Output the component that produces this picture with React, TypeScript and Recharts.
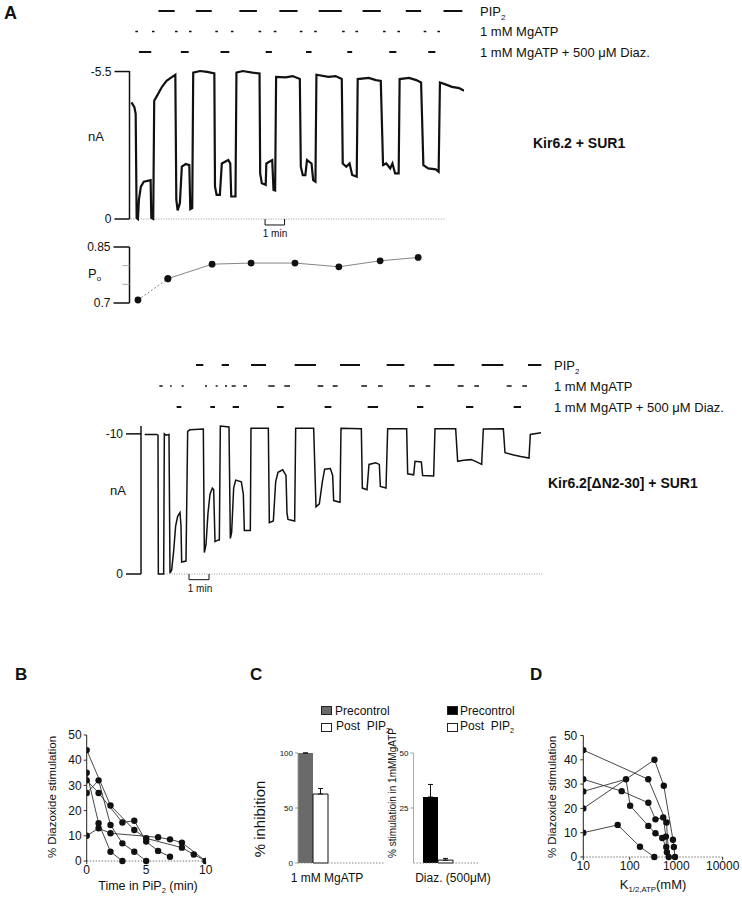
import React from "react";
import {
  Bar,
  BarChart,
  ErrorBar,
  Line,
  LineChart,
  ReferenceLine,
  XAxis,
  YAxis,
} from "recharts";

const FONT = '"Liberation Sans", Arial, Helvetica, sans-serif';
const INK = "#111";

// ---------- A, Kir6.2 + SUR1 (time in s, current in -nA) ----------
const A1_TIME = [
  0, 9, 13, 16, 20, 23, 29, 38, 59, 61, 67, 70, 79, 94, 108, 123, 135, 138, 142,
  149, 155, 167, 178, 181, 187, 190, 211, 233, 255, 257, 262, 272, 278, 298, 304,
  307, 320, 323, 342, 372, 394, 396, 401, 413, 415, 433, 437, 442, 445, 474, 496,
  518, 521, 527, 535, 540, 554, 559, 566, 569, 606, 628, 647, 650, 661, 671, 679,
  693, 696, 730, 752, 767, 774, 784, 796, 803, 811, 822, 825, 854, 876, 891, 898,
  913, 936, 945, 949, 964, 986, 1008, 1023,
];
const A1_CURRENT = [
  4.35, 4.17, 3.92, 0.04, 0, 0.72, 1.21, 1.39, 1.45, 0.04, 0, 4.41, 4.6, 4.93,
  5.15, 5.28, 5.38, 0.72, 0.32, 0.59, 1.95, 2.05, 2.01, 0.37, 0.41, 5.46, 5.52,
  5.49, 5.43, 1.21, 0.9, 0.9, 2.07, 2.2, 2.07, 0.84, 0.84, 5.46, 5.52, 5.46, 5.43,
  1.7, 1.33, 1.27, 2.07, 2.2, 1.08, 1.06, 5.3, 5.28, 5.33, 5.22, 1.95, 1.64, 1.64,
  2.2, 2.07, 1.45, 1.39, 5.38, 5.3, 5.33, 5.22, 2.07, 1.95, 2.07, 1.64, 1.58,
  5.22, 5.26, 5.18, 5.15, 2.01, 2.07, 1.89, 2.07, 1.7, 1.7, 5.22, 5.26, 5.18,
  5.09, 2.01, 1.89, 1.85, 1.76, 5.09, 5.03, 4.93, 4.88, 4.78,
];
const A1_PIP2: [number, number][] = [
  [83, 133], [198, 247], [332, 386], [455, 511], [576, 647], [711, 767], [844, 891], [960, 1018],
];
const A1_MGATP: [number, number][] = [
  [12, 20], [63, 71], [134, 142], [177, 185], [258, 266], [306, 314], [391, 399], [438, 446],
  [518, 526], [562, 570], [648, 656], [689, 697], [774, 782], [818, 826], [899, 907], [941, 949],
];
const A1_DIAZ: [number, number][] = [
  [23, 61], [152, 176], [274, 301], [413, 432], [537, 554], [664, 679], [793, 815], [913, 935],
];

const PO_TIME = [20, 112, 248, 368, 503, 638, 765, 882];
const PO_VALUE = [0.708, 0.765, 0.804, 0.807, 0.807, 0.797, 0.813, 0.822];

// ---------- A, Kir6.2[ΔN2-30] + SUR1 ----------
const A2_TIME = [
  0, 36, 40, 41, 57, 59, 64, 73, 76, 81, 87, 93, 99, 106, 109, 111, 124, 129, 136,
  176, 179, 184, 190, 196, 203, 207, 211, 221, 224, 227, 253, 257, 261, 267, 273,
  290, 296, 299, 317, 319, 371, 374, 386, 393, 400, 414, 424, 427, 430, 450, 453,
  507, 514, 524, 533, 540, 557, 564, 567, 586, 589, 650, 653, 667, 673, 693, 704,
  707, 724, 729, 786, 789, 807, 811, 830, 834, 867, 871, 933, 939, 957, 979, 993,
  1011, 1016, 1076, 1081, 1107, 1128, 1153, 1157, 1189,
];
const A2_CURRENT = [
  9.96, 9.96, 9.91, 0, 0, 10.0, 9.91, 9.96, 0.07, 0.29, 1.64, 3.44, 4.11, 4.38,
  3.44, 0.85, 0.92, 10.18, 10.29, 10.34, 1.53, 2.09, 4.34, 5.69, 6.13, 6.02, 2.31,
  2.43, 2.43, 10.56, 10.49, 2.54, 2.99, 6.13, 6.7, 6.58, 5.69, 3.1, 3.1, 10.4,
  10.4, 3.66, 3.78, 6.58, 7.26, 7.44, 7.03, 4.34, 3.89, 3.78, 10.4, 10.4, 4.79,
  5.01, 6.58, 7.48, 7.53, 7.03, 5.24, 5.12, 10.4, 10.36, 6.13, 6.02, 7.82, 7.93,
  7.82, 6.25, 6.13, 10.36, 10.36, 7.15, 7.08, 8.04, 8.0, 7.03, 6.99, 10.36, 10.36,
  8.04, 8.11, 8.16, 8.04, 7.82, 10.34, 10.36, 8.65, 8.49, 8.38, 8.27, 9.96, 10.07,
];
const A2_PIP2: [number, number][] = [
  [154, 176], [231, 253], [319, 364], [450, 514], [586, 646], [726, 779], [867, 929],
  [1011, 1076], [1150, 1190],
];
const A2_MGATP: [number, number][] = [
  [44, 54], [76, 81], [111, 117], [181, 187], [213, 219], [241, 247], [261, 273],
  [296, 307], [371, 390], [419, 436], [519, 536], [564, 579], [650, 667], [700, 714],
  [793, 810], [843, 857], [939, 957], [989, 1003], [1086, 1101], [1133, 1147],
];
const A2_DIAZ: [number, number][] = [
  [96, 110], [197, 211], [264, 283], [397, 417], [540, 560], [669, 700], [817, 836],
  [964, 986], [1107, 1129],
];

const ROW_LABELS = ["1 mM MgATP + 500 μM Diaz.", "1 mM MgATP", "PIP2"];

// ---------- B: % diazoxide stimulation vs time in PIP2 (min) ----------
const B_CELL_1 = [[0, 44], [2, 22], [4, 12.3], [5, 9], [8, 5.3], [9, 2.6], [10, 0]];
const B_CELL_2 = [[0, 35], [1, 15], [2, 3.7], [3, 0]];
const B_CELL_3 = [[0, 32], [1, 27], [3, 15.3], [4, 16], [5, 7.7], [6, 4], [7, 1.7]];
const B_CELL_4 = [[0, 27], [1, 32], [2, 14.3], [3, 7], [4, 3.7], [5, 0]];
const B_CELL_5 = [[0, 10], [1, 13], [2, 11], [6, 9.4], [7, 8.6], [8, 7.3], [10, 0]];

// ---------- C ----------
const C_GROUPS = ["1 mM MgATP", "Diaz. (500μM)"];
const C_PRE = [100, 30];
const C_POST = [62.7, 1.3];
const C_PRE_SEM = [0, 5.7];
const C_POST_SEM = [5, 0.8];

// ---------- D: % diazoxide stimulation vs K1/2,ATP (mM) ----------
const D_CELL_1 = [[10, 44], [250, 32], [617, 14.2], [690, 0]];
const D_CELL_2 = [[10, 20], [340, 40], [540, 29.3], [850, 7.1], [890, 4.1], [940, 0]];
const D_CELL_3 = [[10, 32], [67, 27.1], [251, 22.3], [357, 15.5], [525, 16.3], [600, 8.4], [630, 2]];
const D_CELL_4 = [[10, 27], [83, 32], [102, 21.1], [251, 12.8], [357, 9.8], [500, 7.8], [610, 4.1]];
const D_CELL_5 = [[10, 10], [55, 13.2], [166, 4.2], [338, 0]];

const Sub = ({ children }: { children: React.ReactNode }) => (
  <span style={{ fontSize: "0.6em", verticalAlign: "-0.35em" }}>{children}</span>
);

const Txt = ({
  x,
  y,
  size = 13,
  bold = false,
  anchor = "start",
  children,
}: {
  x: number;
  y: number;
  size?: number;
  bold?: boolean;
  anchor?: "start" | "middle" | "end";
  children: React.ReactNode;
}) => {
  const tx = anchor === "middle" ? "-50%" : anchor === "end" ? "-100%" : "0";
  return (
    <div
      style={{
        position: "absolute",
        left: x,
        top: y,
        transform: `translate(${tx}, -50%)`,
        fontSize: size,
        fontWeight: bold ? 700 : 400,
        whiteSpace: "nowrap",
        lineHeight: 1,
      }}
    >
      {children}
    </div>
  );
};

const RotTxt = ({ x, y, size, children }: { x: number; y: number; size: number; children: React.ReactNode }) => (
  <div
    style={{
      position: "absolute",
      left: x,
      top: y,
      transform: "translate(-50%, -50%) rotate(-90deg)",
      fontSize: size,
      whiteSpace: "nowrap",
      lineHeight: 1,
    }}
  >
    {children}
  </div>
);

const RowTick = (props: any) => {
  const { x, y, payload, gap } = props;
  const label = ROW_LABELS[payload.value];
  return (
    <text x={x + gap} y={y} dy="0.35em" fontSize={13} fill={INK} fontFamily={FONT}>
      {label === "PIP2" ? (
        <>
          <tspan>PIP</tspan>
          <tspan fontSize={8} dy={4}>2</tspan>
        </>
      ) : (
        label
      )}
    </text>
  );
};

type Seg = [number, number];

// one row of the application protocol: bars broken by nulls
const rowData = (rows: Seg[], level: number) =>
  rows.flatMap(([s, e]) => [
    { t: s, v: level },
    { t: e, v: level },
    { t: e, v: null },
  ]);

function Protocol({
  top,
  rowTop,
  rowBottom,
  plotLeft,
  plotRight,
  xDomain,
  pip2,
  mgatp,
  diaz,
  gap,
}: {
  top: number;
  rowTop: number;
  rowBottom: number;
  plotLeft: number;
  plotRight: number;
  xDomain: [number, number];
  pip2: Seg[];
  mgatp: Seg[];
  diaz: Seg[];
  gap: number;
}) {
  const width = 742;
  const height = rowBottom - top + 10;
  const rows: [Seg[], number, number][] = [
    [pip2, 2, 2],
    [mgatp, 1, 1.6],
    [diaz, 0, 2],
  ];
  return (
    <div style={{ position: "absolute", left: 0, top }}>
      <LineChart
        width={width}
        height={height}
        margin={{ top: rowTop - top, bottom: height - (rowBottom - top), left: plotLeft, right: 0 }}
      >
        <XAxis type="number" dataKey="t" domain={xDomain} hide allowDataOverflow />
        <YAxis
          type="number"
          orientation="right"
          domain={[0, 2]}
          ticks={[0, 1, 2]}
          interval={0}
          width={width - plotRight}
          axisLine={false}
          tickLine={false}
          tickSize={0}
          tickMargin={0}
          tick={<RowTick gap={gap} />}
        />
        {rows.map(([segs, level, sw]) => (
          <Line
            key={level}
            data={rowData(segs, level)}
            dataKey="v"
            type="linear"
            stroke={INK}
            strokeWidth={sw}
            dot={false}
            activeDot={false}
            connectNulls={false}
            isAnimationActive={false}
          />
        ))}
      </LineChart>
    </div>
  );
}

function Trace({
  top,
  height,
  plotLeft,
  plotRight,
  yTop,
  yBottom,
  xDomain,
  yMax,
  time,
  current,
  baseline,
  scaleBar,
  strokeWidth,
}: {
  top: number;
  height: number;
  plotLeft: number;
  plotRight: number;
  yTop: number;
  yBottom: number;
  xDomain: [number, number];
  yMax: number;
  time: number[];
  current: number[];
  baseline: [number, number];
  scaleBar: [number, number];
  strokeWidth: number;
}) {
  const width = plotRight + 16;
  const data = time.map((t, i) => ({ t, i: current[i] }));
  const dip = (yMax * 6) / (yBottom - yTop);
  const bar = [
    [{ x: scaleBar[0], y: 0 }, { x: scaleBar[0], y: -dip }],
    [{ x: scaleBar[0], y: -dip }, { x: scaleBar[1], y: -dip }],
    [{ x: scaleBar[1], y: -dip }, { x: scaleBar[1], y: 0 }],
  ];
  return (
    <div style={{ position: "absolute", left: 0, top }}>
      <LineChart
        width={width}
        height={height}
        data={data}
        margin={{ top: yTop - top, bottom: top + height - yBottom, left: 0, right: width - plotRight }}
      >
        <XAxis type="number" dataKey="t" domain={xDomain} hide allowDataOverflow />
        <YAxis
          type="number"
          domain={[0, yMax]}
          ticks={[0, yMax]}
          interval={0}
          width={plotLeft}
          axisLine={{ stroke: INK, strokeWidth: 1.5 }}
          tickLine={{ stroke: INK, strokeWidth: 1.5 }}
          tickSize={15}
          tickMargin={3}
          tick={{ fontSize: 12, fill: INK, fontFamily: FONT }}
          tickFormatter={(v: number) => (v === 0 ? "0" : `-${v}`)}
        />
        <ReferenceLine
          segment={[{ x: baseline[0], y: 0 }, { x: baseline[1], y: 0 }]}
          stroke="#999"
          strokeDasharray="1 1.5"
          ifOverflow="visible"
        />
        {bar.map((s, i) => (
          <ReferenceLine key={i} segment={s} stroke={INK} strokeWidth={1} ifOverflow="visible" />
        ))}
        <Line
          dataKey="i"
          type="linear"
          stroke={INK}
          strokeWidth={strokeWidth}
          dot={false}
          activeDot={false}
          isAnimationActive={false}
        />
      </LineChart>
    </div>
  );
}

const PoTick = (props: any) => {
  const { x, y, payload } = props;
  const major = payload.value === 0.7 || payload.value === 0.85;
  return (
    <g>
      <line
        x1={x - (major ? 16 : 7)}
        x2={x}
        y1={y}
        y2={y}
        stroke={major ? INK : "#aaa"}
        strokeWidth={major ? 1.5 : 1}
      />
      {major && (
        <text x={x - 19} y={y} dy="0.35em" textAnchor="end" fontSize={12} fill={INK} fontFamily={FONT}>
          {payload.value}
        </text>
      )}
    </g>
  );
};

function PoChart() {
  const top = 237;
  const height = 76;
  const data = PO_TIME.map((t, i) => ({ t, po: PO_VALUE[i] }));
  return (
    <div style={{ position: "absolute", left: 0, top }}>
      <LineChart width={480} height={height} margin={{ top: 247 - top, bottom: top + height - 303, left: 0, right: 16 }}>
        <XAxis type="number" dataKey="t" domain={[-6, 1023]} hide allowDataOverflow />
        <YAxis
          type="number"
          domain={[0.7, 0.85]}
          ticks={[0.7, 0.75, 0.8, 0.85]}
          interval={0}
          width={129.5}
          axisLine={{ stroke: INK, strokeWidth: 1.5 }}
          tickLine={false}
          tickSize={0}
          tickMargin={0}
          tick={<PoTick />}
        />
        <Line
          data={data.slice(0, 2)}
          dataKey="po"
          stroke="#666"
          strokeWidth={0.8}
          strokeDasharray="2 2"
          dot={{ r: 3.4, fill: INK, stroke: INK, strokeWidth: 0 }}
          activeDot={false}
          isAnimationActive={false}
        />
        <Line
          data={data.slice(1)}
          dataKey="po"
          stroke="#666"
          strokeWidth={0.8}
          dot={{ r: 3.4, fill: INK, stroke: INK, strokeWidth: 0 }}
          activeDot={false}
          isAnimationActive={false}
        />
      </LineChart>
    </div>
  );
}

const cellLine = (pts: number[][], key: string) => (
  <Line
    key={key}
    data={pts.map(([x, y]) => ({ x, y }))}
    dataKey="y"
    type="linear"
    stroke="#333"
    strokeWidth={0.9}
    dot={{ r: 3.2, fill: INK, stroke: INK, strokeWidth: 0 }}
    activeDot={false}
    isAnimationActive={false}
  />
);

function PanelB() {
  return (
    <div style={{ position: "absolute", left: 0, top: 720 }}>
      <LineChart width={230} height={175} margin={{ top: 15, right: 24.3, bottom: 9, left: 0 }}>
        <XAxis
          type="number"
          dataKey="x"
          domain={[0, 10]}
          ticks={[0, 5, 10]}
          interval={0}
          height={25}
          axisLine={{ stroke: "#777", strokeDasharray: "1.5 1.5" }}
          tickLine={{ stroke: "#333" }}
          tickSize={3}
          tickMargin={1}
          tick={{ fontSize: 12, fill: INK, fontFamily: FONT }}
          allowDataOverflow
        />
        <YAxis
          type="number"
          domain={[0, 50]}
          ticks={[0, 10, 20, 30, 40, 50]}
          interval={0}
          width={86.7}
          axisLine={{ stroke: "#222" }}
          tickLine={{ stroke: "#333" }}
          tickSize={3}
          tickMargin={2}
          tick={{ fontSize: 12, fill: INK, fontFamily: FONT }}
        />
        {[B_CELL_1, B_CELL_2, B_CELL_3, B_CELL_4, B_CELL_5].map((c, i) => cellLine(c, "b" + i))}
      </LineChart>
    </div>
  );
}

function PanelD() {
  return (
    <div style={{ position: "absolute", left: 490, top: 720 }}>
      <LineChart width={250} height={175} margin={{ top: 15.5, right: 17.3, bottom: 13, left: 0 }}>
        <XAxis
          type="number"
          dataKey="x"
          scale="log"
          domain={[10, 10000]}
          ticks={[10, 100, 1000, 10000]}
          interval={0}
          height={25}
          axisLine={{ stroke: "#777", strokeDasharray: "1.5 1.5" }}
          tickLine={{ stroke: "#333" }}
          tickSize={3}
          tickMargin={1}
          tick={{ fontSize: 12, fill: INK, fontFamily: FONT }}
          allowDataOverflow
        />
        <YAxis
          type="number"
          domain={[0, 50]}
          ticks={[0, 10, 20, 30, 40, 50]}
          interval={0}
          width={93.3}
          axisLine={{ stroke: "#222" }}
          tickLine={{ stroke: "#333" }}
          tickSize={3}
          tickMargin={3}
          tick={{ fontSize: 12, fill: INK, fontFamily: FONT }}
        />
        {[D_CELL_1, D_CELL_2, D_CELL_3, D_CELL_4, D_CELL_5].map((c, i) => cellLine(c, "d" + i))}
      </LineChart>
    </div>
  );
}

function BarPanel({
  idx,
  left,
  width,
  yWidth,
  rightGap,
  yMax,
  ticks,
  padLeft,
  padRight,
  preFill,
}: {
  idx: number;
  left: number;
  width: number;
  yWidth: number;
  rightGap: number;
  yMax: number;
  ticks: number[];
  padLeft: number;
  padRight: number;
  preFill: string;
}) {
  const data = [
    {
      name: C_GROUPS[idx],
      pre: C_PRE[idx],
      post: C_POST[idx],
      preErr: [0, C_PRE_SEM[idx]],
      postErr: [0, C_POST_SEM[idx]],
    },
  ];
  return (
    <div style={{ position: "absolute", left, top: 740 }}>
      <BarChart
        width={width}
        height={140}
        data={data}
        barCategoryGap={0}
        barGap={0}
        margin={{ top: 13, right: rightGap, bottom: 15, left: 0 }}
      >
        <XAxis
          dataKey="name"
          type="category"
          padding={{ left: padLeft, right: padRight }}
          height={2}
          tick={false}
          tickLine={false}
          axisLine={{ stroke: "#888", strokeDasharray: "1.5 1.5" }}
        />
        <YAxis
          type="number"
          domain={[0, yMax]}
          ticks={ticks}
          interval={0}
          width={yWidth}
          axisLine={{ stroke: "#999", strokeWidth: 0.8 }}
          tickLine={{ stroke: "#999" }}
          tickSize={3}
          tickMargin={2}
          tick={{ fontSize: 8, fill: INK, fontFamily: FONT }}
        />
        <Bar dataKey="pre" fill={preFill} isAnimationActive={false}>
          <ErrorBar dataKey="preErr" width={2.5} stroke={INK} strokeWidth={1} isAnimationActive={false} />
        </Bar>
        <Bar dataKey="post" fill="#fff" stroke={INK} strokeWidth={1} isAnimationActive={false}>
          <ErrorBar dataKey="postErr" width={2.5} stroke={INK} strokeWidth={1} isAnimationActive={false} />
        </Bar>
      </BarChart>
    </div>
  );
}

const Swatch = ({ x, y, fill }: { x: number; y: number; fill: string }) => (
  <div
    style={{
      position: "absolute",
      left: x,
      top: y,
      width: 9,
      height: 7,
      background: fill,
      border: "1px solid #222",
    }}
  />
);

export default function App() {
  return (
    <div
      style={{
        position: "absolute",
        left: 0,
        top: 0,
        width: 742,
        height: 899,
        background: "#fff",
        fontFamily: FONT,
        color: INK,
        overflow: "hidden",
      }}
    >
      {/* Panel A, upper recording */}
      <Protocol
        top={0}
        rowTop={11}
        rowBottom={52}
        plotLeft={129.5}
        plotRight={464}
        xDomain={[-6, 1023]}
        pip2={A1_PIP2}
        mgatp={A1_MGATP}
        diaz={A1_DIAZ}
        gap={16}
      />
      <Trace
        top={55}
        height={195}
        plotLeft={129.5}
        plotRight={464}
        yTop={71}
        yBottom={219}
        xDomain={[-6, 1023]}
        yMax={5.5}
        time={A1_TIME}
        current={A1_CURRENT}
        baseline={[-2, 966]}
        scaleBar={[411, 471]}
        strokeWidth={2.2}
      />
      <PoChart />

      {/* Panel A, lower recording */}
      <Protocol
        top={350}
        rowTop={365}
        rowBottom={407}
        plotLeft={141}
        plotRight={543}
        xDomain={[-11, 1195]}
        pip2={A2_PIP2}
        mgatp={A2_MGATP}
        diaz={A2_DIAZ}
        gap={11}
      />
      <Trace
        top={410}
        height={190}
        plotLeft={141}
        plotRight={543}
        yTop={426}
        yBottom={574}
        xDomain={[-11, 1195]}
        yMax={10}
        time={A2_TIME}
        current={A2_CURRENT}
        baseline={[43, 1193]}
        scaleBar={[133, 193]}
        strokeWidth={1.5}
      />

      <PanelB />
      <BarPanel idx={0} left={250} width={140} yWidth={48} rightGap={6} yMax={100} ticks={[0, 50, 100]} padLeft={0} padRight={57} preFill="#6a6a6a" />
      <BarPanel idx={1} left={370} width={115} yWidth={43.5} rightGap={7} yMax={50} ticks={[25, 50]} padLeft={9.5} padRight={25} preFill="#000" />
      <PanelD />

      {/* text */}
      <Txt x={4} y={13} size={18} bold>A</Txt>
      <Txt x={533} y={143} size={14} bold>Kir6.2 + SUR1</Txt>
      <Txt x={88} y={136}>nA</Txt>
      <Txt x={275} y={234} size={10} anchor="middle">1 min</Txt>
      <Txt x={88} y={275} size={13}>P<Sub>o</Sub></Txt>
      <Txt x={548} y={483} size={14} bold>Kir6.2[ΔN2-30] + SUR1</Txt>
      <Txt x={110} y={490}>nA</Txt>
      <Txt x={200} y={589} size={10} anchor="middle">1 min</Txt>

      <Txt x={15} y={674} size={17} bold>B</Txt>
      <Txt x={250} y={674} size={17} bold>C</Txt>
      <Txt x={530} y={674} size={17} bold>D</Txt>

      <RotTxt x={53} y={797} size={11.5}>% Diazoxide stimulation</RotTxt>
      <Txt x={148} y={887} size={12.5} anchor="middle">Time in PiP<Sub>2</Sub> (min)</Txt>

      <RotTxt x={553} y={797} size={11.5}>% Diazoxide stimulation</RotTxt>
      <Txt x={653} y={886} size={13} anchor="middle">K<Sub>1/2,ATP</Sub>(mM)</Txt>

      <RotTxt x={259} y={819} size={15}>% inhibition</RotTxt>
      <RotTxt x={393} y={793} size={10}>% stimulatioin in 1mMMgATP</RotTxt>
      <Txt x={327} y={878} size={12} anchor="middle">{C_GROUPS[0]}</Txt>
      <Txt x={453} y={878} size={12} anchor="middle">{C_GROUPS[1]}</Txt>

      <Swatch x={321} y={706} fill="#6a6a6a" />
      <Txt x={335} y={711} size={12}>Precontrol</Txt>
      <Swatch x={321} y={723} fill="#fff" />
      <Txt x={336} y={727} size={12}>Post&nbsp; PIP<Sub>2</Sub></Txt>
      <Swatch x={447} y={706} fill="#000" />
      <Txt x={460} y={711} size={12}>Precontrol</Txt>
      <Swatch x={447} y={723} fill="#fff" />
      <Txt x={460} y={727} size={12}>Post&nbsp; PIP<Sub>2</Sub></Txt>
    </div>
  );
}
